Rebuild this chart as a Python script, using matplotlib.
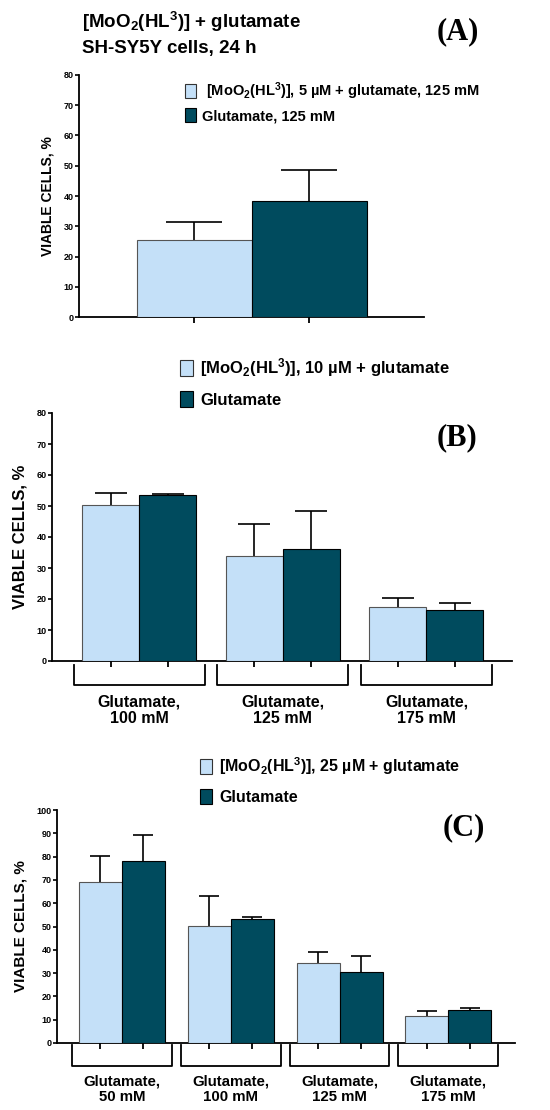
import numpy as np
import matplotlib
matplotlib.use("Agg")
import matplotlib.pyplot as plt
from matplotlib.lines import Line2D
from matplotlib.patches import Patch

plt.rcParams['font.family'] = ['Liberation Sans', 'DejaVu Sans']
plt.rcParams['font.weight'] = 'bold'
plt.rcParams['mathtext.fontset'] = 'custom'
plt.rcParams['mathtext.rm'] = 'Liberation Sans:bold'
plt.rcParams['mathtext.bf'] = 'Liberation Sans:bold'
plt.rcParams['mathtext.default'] = 'bf'

LIGHT = '#c4e0f8'
DARK = '#004b5e'

# panel A
a_labels = [r" [MoO$_2$(HL$^3$)], 5 µM + glutamate, 125 mM", "Glutamate, 125 mM"]
a_vals = [25.5, 38.5]
a_err = [6.0, 10.0]

# panel B
b_groups = ["Glutamate,\n100 mM", "Glutamate,\n125 mM", "Glutamate,\n175 mM"]
b_labels = [r"[MoO$_2$(HL$^3$)], 10 µM + glutamate", "Glutamate"]
b_light = [50.3, 33.9, 17.5]
b_light_err = [3.8, 10.4, 2.7]
b_dark = [53.4, 36.0, 16.4]
b_dark_err = [0.5, 12.3, 2.4]

# panel C
c_groups = ["Glutamate,\n50 mM", "Glutamate,\n100 mM", "Glutamate,\n125 mM", "Glutamate,\n175 mM"]
c_labels = [r"[MoO$_2$(HL$^3$)], 25 µM + glutamate", "Glutamate"]
c_light = [69.2, 50.2, 34.5, 11.6]
c_light_err = [10.9, 13.0, 4.7, 2.3]
c_dark = [78.3, 53.4, 30.5, 14.2]
c_dark_err = [10.8, 0.7, 6.8, 0.7]

W, H = 550, 1110
fig = plt.figure(figsize=(W / 100, H / 100), dpi=100)


def px_axes(l, r, top, bot):
    return fig.add_axes([l / W, 1 - bot / H, (r - l) / W, (bot - top) / H])


def style(ax, ymax, ystep, tsize):
    ax.spines['top'].set_visible(False)
    ax.spines['right'].set_visible(False)
    ax.spines['left'].set_linewidth(1.3)
    ax.spines['bottom'].set_linewidth(1.3)
    ax.set_ylim(0, ymax)
    ax.set_yticks(np.arange(0, ymax + 1, ystep))
    ax.tick_params(axis='y', labelsize=tsize, width=1.2, length=3, pad=1)
    ax.tick_params(axis='x', labelbottom=False, width=1.3, length=4)


def bars(ax, x, vals, err, colors, edges, cap):
    # symmetric error bars behind the bars, so only the upper half shows
    ax.bar(x, vals, 1.0, color=colors, edgecolor=edges, linewidth=0.8, zorder=3)
    ax.errorbar(x, vals, yerr=err, fmt='none', ecolor='black', elinewidth=1.2,
                capthick=1.2, capsize=cap, zorder=2)


def bar_pair(ax, x, light, lerr, dark, derr, cap):
    bars(ax, x - 0.5, light, lerr, LIGHT, '#555555', cap)
    bars(ax, x + 0.5, dark, derr, DARK, 'black', cap)
    ax.set_xticks(np.concatenate([x - 0.5, x + 0.5]))


def brackets(ax, x, groups, half, y0, y1, fsize, ty):
    tr = ax.get_xaxis_transform()
    for gx, g in zip(x, groups):
        ax.add_line(Line2D([gx - half, gx - half, gx + half, gx + half], [y0, y1, y1, y0],
                           transform=tr, color='black', lw=1.3, clip_on=False))
        ax.text(gx, ty, g, transform=tr, ha='center', va='top', fontsize=fsize,
                fontweight='bold', linespacing=1.15)


def legend(ax, labels, x, y, fsize, spacing):
    hs = [Patch(facecolor=LIGHT, edgecolor='#333333', lw=0.8),
          Patch(facecolor=DARK, edgecolor='black', lw=0.8)]
    ax.legend(hs, labels, loc='upper left', bbox_to_anchor=(x / W, 1 - y / H),
              bbox_transform=fig.transFigure, frameon=False,
              handlelength=0.75, handleheight=1.1, handletextpad=0.45,
              borderpad=0, borderaxespad=0, labelspacing=spacing,
              prop={'weight': 'bold', 'size': fsize})


def letter(x, y, s):
    fig.text(x / W, 1 - y / H, s, fontsize=22, fontweight='bold', family='Liberation Serif',
             ha='center', va='center')


# ---- A
axA = px_axes(79, 424, 74.7, 317.3)
style(axA, 80, 10, 6.5)
axA.set_xlim(-1, 2)
xa = np.arange(2)
bars(axA, xa, a_vals, a_err, [LIGHT, DARK], ['#555555', 'black'], 20)
axA.set_xticks(xa)
axA.set_ylabel("VIABLE CELLS, %", fontsize=10, fontweight='bold', labelpad=6)
legend(axA, a_labels, 185, 80, 10.5, 0.45)
fig.text(82 / W, 1 - 28 / H, r"[MoO$_2$(HL$^3$)] + glutamate", fontsize=13.5, fontweight='bold')
fig.text(82 / W, 1 - 53 / H, "SH-SY5Y cells, 24 h", fontsize=13.5, fontweight='bold')
letter(458, 32, "(A)")

# ---- B
axB = px_axes(52, 512, 413, 661)
style(axB, 80, 10, 6.5)
xb = np.arange(3) * 2.52
axB.set_xlim(-1.53, 6.54)
bar_pair(axB, xb, b_light, b_light_err, b_dark, b_dark_err, 11.5)
axB.set_ylabel("VIABLE CELLS, %", fontsize=12, fontweight='bold', labelpad=6)
brackets(axB, xb, b_groups, 1.15, -0.016, -0.097, 11.5, -0.135)
legend(axB, b_labels, 180, 356, 12, 0.75)
letter(457, 438, "(B)")

# ---- C
axC = px_axes(57, 515, 810, 1043)
style(axC, 100, 10, 6.5)
xc = np.arange(4) * 2.53
axC.set_xlim(-1.51, 9.14)
bar_pair(axC, xc, c_light, c_light_err, c_dark, c_dark_err, 7.5)
axC.set_ylabel("VIABLE CELLS, %", fontsize=11, fontweight='bold', labelpad=6)
brackets(axC, xc, c_groups, 1.16, -0.01, -0.10, 10.8, -0.135)
legend(axC, c_labels, 200, 755, 11.5, 0.75)
letter(464, 828, "(C)")

fig.savefig("out.png", dpi=100)
